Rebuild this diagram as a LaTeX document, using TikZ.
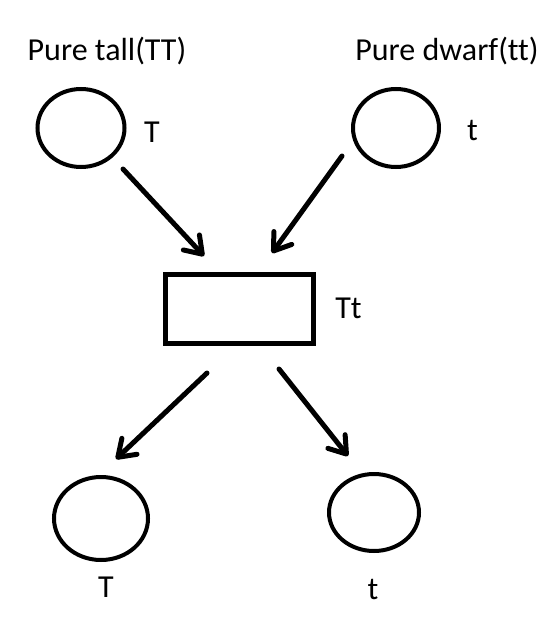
\documentclass[tikz,border=0pt]{standalone}
\usepackage{fontspec}
\setmainfont{Carlito}[Ligatures=NoCommon]
\usetikzlibrary{shapes.geometric,arrows.meta}
\tikzset{
  blob/.style={draw, ellipse, line width=4pt, inner sep=0pt},
  box/.style={draw, rectangle, line width=5pt, inner sep=0pt},
  lbl/.style={anchor=base, inner sep=0pt, font=\fontsize{32}{38}\selectfont},
  conn/.style={line width=5pt, line cap=round, -{Straight Barb[length=16pt,width=22pt,round]}}
}
\begin{document}
\begin{tikzpicture}[x=1pt,y=-1pt]
\useasboundingbox (0,0) rectangle (547,618);
\node[blob, minimum width=87pt, minimum height=78pt] (tl) at (81,128) {};
\node[blob, minimum width=86pt, minimum height=78pt] (tr) at (396,128) {};
\node[box, minimum width=148pt, minimum height=69pt] (mid) at (239,308.5) {};
\node[blob, minimum width=94pt, minimum height=83pt] (bl) at (101,518.5) {};
\node[blob, minimum width=90pt, minimum height=77pt] (br) at (374,512.5) {};

\node[lbl] (ttl) at (107,60) {Pure tall(TT)};
\node[lbl] (ttr) at (447,60) {Pure dwarf(tt)};
\node[lbl] (ltl) at (152,142) {T};
\node[lbl] (ltr) at (472.5,140) {t};
\node[lbl] (lmid) at (348.5,318) {Tt};
\node[lbl] (lbl1) at (106,597) {T};
\node[lbl] (lbr) at (373,599) {t};

\coordinate (a1s) at (123,169);
\coordinate (a1e) at (204,256);
\coordinate (a2s) at (342,156);
\coordinate (a2e) at (272,253);
\coordinate (a3s) at (207,373);
\coordinate (a3e) at (116,459);
\coordinate (a4s) at (279,369);
\coordinate (a4e) at (348,456);
\draw[conn] (a1s) -- (a1e);
\draw[conn] (a2s) -- (a2e);
\draw[conn] (a3s) -- (a3e);
\draw[conn] (a4s) -- (a4e);
\end{tikzpicture}
\end{document}
